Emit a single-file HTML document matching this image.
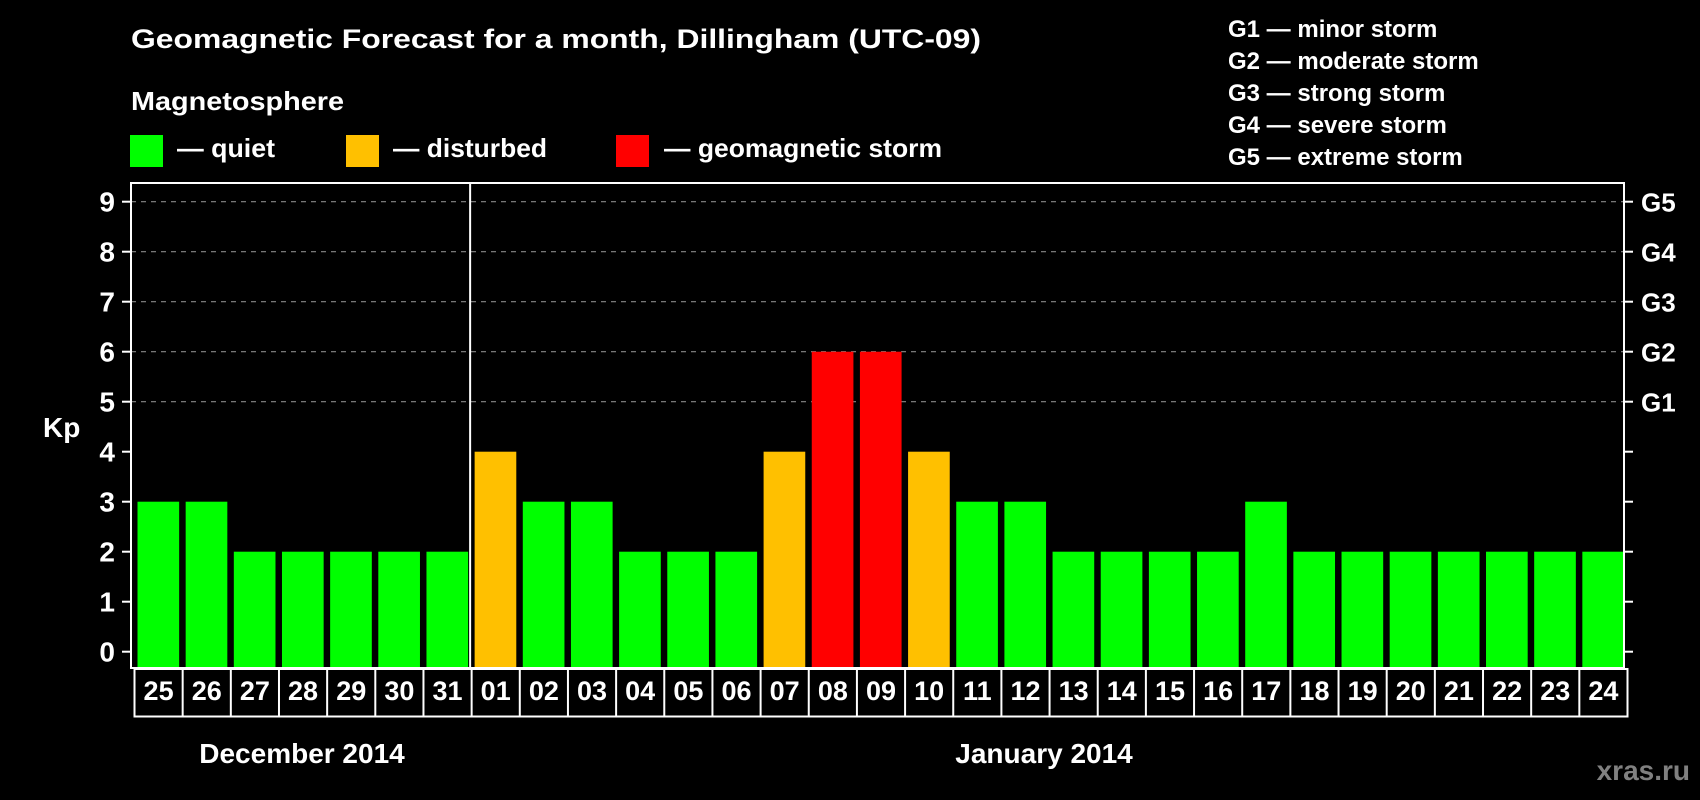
<!DOCTYPE html>
<html><head><meta charset="utf-8"><style>
html,body{margin:0;padding:0;background:#000;}
svg{display:block;font-family:"Liberation Sans",Arial,sans-serif;font-weight:bold;}
</style></head><body>
<svg id="chart" width="1700" height="800" viewBox="0 0 1700 800">
<rect x="0" y="0" width="1700" height="800" fill="#000"/>
<text x="131" y="48" font-size="27" fill="#fff" textLength="850" lengthAdjust="spacingAndGlyphs">Geomagnetic Forecast for a month, Dillingham (UTC-09)</text>
<text x="131" y="110" font-size="26" fill="#fff" textLength="213" lengthAdjust="spacingAndGlyphs">Magnetosphere</text>
<g><rect x="130" y="135" width="33" height="32" fill="#00ff00"/><text x="177" y="157" font-size="26" fill="#fff" textLength="98" lengthAdjust="spacingAndGlyphs">— quiet</text></g>
<g><rect x="346" y="135" width="33" height="32" fill="#ffc000"/><text x="393" y="157" font-size="26" fill="#fff" textLength="154" lengthAdjust="spacingAndGlyphs">— disturbed</text></g>
<g><rect x="616" y="135" width="33" height="32" fill="#ff0000"/><text x="664" y="157" font-size="26" fill="#fff" textLength="278" lengthAdjust="spacingAndGlyphs">— geomagnetic storm</text></g>
<g font-size="24" fill="#fff">
<text x="1228" y="37">G1 — minor storm</text>
<text x="1228" y="69">G2 — moderate storm</text>
<text x="1228" y="101">G3 — strong storm</text>
<text x="1228" y="133">G4 — severe storm</text>
<text x="1228" y="165">G5 — extreme storm</text>
</g>
<text x="43" y="437" font-size="28" fill="#fff">Kp</text>
<text x="302" y="763" font-size="28" fill="#fff" text-anchor="middle">December 2014</text>
<text x="1044" y="763" font-size="28" fill="#fff" text-anchor="middle">January 2014</text>
<text x="1690" y="780" font-size="28" fill="#808080" text-anchor="end">xras.ru</text>
<g id="grid"></g><g id="bars"></g><g id="axes"></g>
</svg>
<script>
const days = ["25","26","27","28","29","30","31","01","02","03","04","05","06","07","08","09","10","11","12","13","14","15","16","17","18","19","20","21","22","23","24"];
const kpValues = [3,3,2,2,2,2,2,4,3,3,2,2,2,4,6,6,4,3,3,2,2,2,2,3,2,2,2,2,2,2,2];
const yTicks = [0,1,2,3,4,5,6,7,8,9];
const gLabels = ["G1","G2","G3","G4","G5"];
const gLevels = [5,6,7,8,9];
const gridLevels = [5,6,7,8,9];
const monthBreakIndex = 7;

const NS="http://www.w3.org/2000/svg";
const L=131,R=1624,T=183,B=668,Y0=651.7,UNIT=50,STEP=(R-L)/days.length;
const y=v=>Y0-v*UNIT;
const xs=i=>L+i*STEP;
function mk(tag,attrs,parent){const e=document.createElementNS(NS,tag);for(const k in attrs)e.setAttribute(k,attrs[k]);parent.appendChild(e);return e;}
const grid=document.getElementById('grid'),bars=document.getElementById('bars'),axes=document.getElementById('axes');
gridLevels.forEach(v=>{const l=mk('line',{x1:L,x2:R,y1:y(v),y2:y(v),stroke:'#888','stroke-width':1.2,'stroke-dasharray':'5,5'},grid);

});
kpValues.forEach((v,i)=>{const c=v>=5?'#ff0000':(v>=4?'#ffc000':'#00ff00');
const r=mk('rect',{x:xs(i)+6.5,y:y(v),width:STEP-6.5,height:B-y(v),fill:c},bars);

});
const frame=mk('rect',{x:L,y:T,width:R-L,height:B-T,fill:'none',stroke:'#fff','stroke-width':2},axes);


const div=mk('line',{x1:xs(monthBreakIndex)+2,x2:xs(monthBreakIndex)+2,y1:T,y2:B,stroke:'#fff','stroke-width':2},axes);


yTicks.forEach(v=>{
mk('line',{x1:122,x2:L,y1:y(v),y2:y(v),stroke:'#fff','stroke-width':2},axes);
mk('line',{x1:R,x2:1633,y1:y(v),y2:y(v),stroke:'#fff','stroke-width':2},axes);
const t=mk('text',{x:115,y:y(v)+10,'font-size':28,fill:'#fff','text-anchor':'end'},axes);t.textContent=v;

});
gLabels.forEach((g,i)=>{const t=mk('text',{x:1641,y:y(gLevels[i])+10,'font-size':26,fill:'#fff'},axes);t.textContent=g;

});
const tb=mk('rect',{x:134.5,y:669,width:STEP*days.length,height:47.5,fill:'none',stroke:'#fff','stroke-width':2},axes);


days.forEach((d,i)=>{const cx=134.5+i*STEP;
if(i>0)mk('line',{x1:cx,x2:cx,y1:669,y2:716.5,stroke:'#fff','stroke-width':2},axes);
const t=mk('text',{x:cx+STEP/2,y:700,'font-size':27,fill:'#fff','text-anchor':'middle'},axes);t.textContent=d;

});
</script>
</body></html>
